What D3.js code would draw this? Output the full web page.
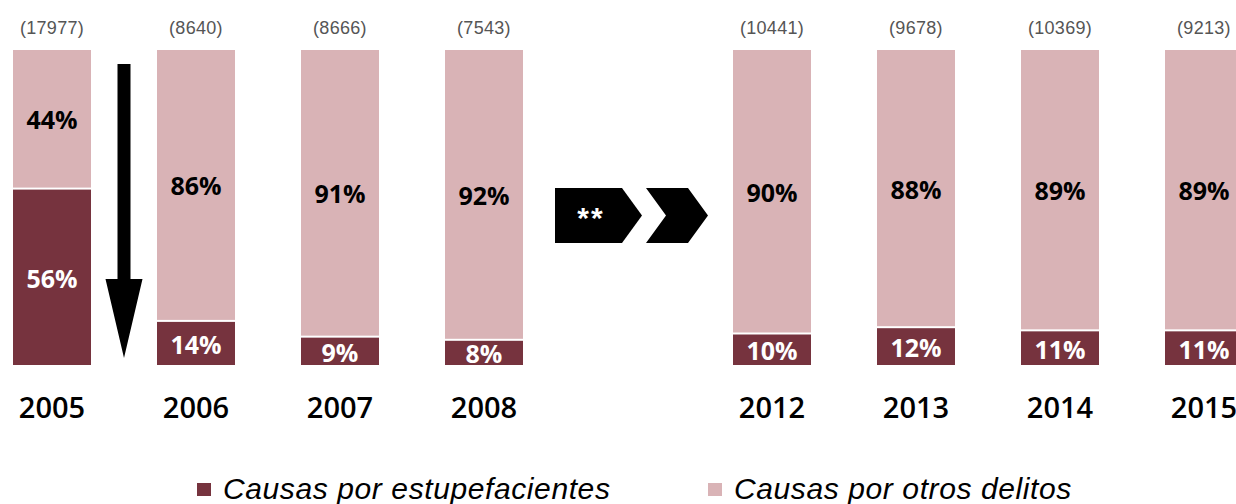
<!DOCTYPE html>
<html lang="es">
<head>
<meta charset="UTF-8">
<title>Causas por estupefacientes</title>
<script src="https://d3js.org/d3.v7.min.js"></script>
<style>
  body { margin: 0; background: #fff; }
  svg { display: block; }
</style>
</head>
<body>
<svg width="1236" height="504"></svg>
<script>
  const width = 1236
  const height = 504

  // data
  const years = ["2005", "2006", "2007", "2008", "", "2012", "2013", "2014", "2015"]
  const estupefacientes = [56, 14, 9, 8, null, 10, 12, 11, 11]
  const otrosDelitos = [44, 86, 91, 92, null, 90, 88, 89, 89]
  const totals = ["(17977)", "(8640)", "(8666)", "(7543)", "", "(10441)", "(9678)", "(10369)", "(9213)"]
  const seriesNames = ["Causas por estupefacientes", "Causas por otros delitos"]
  const colors = ["#76333e", "#d9b3b6"]

  const svg = d3.select("svg")

  const x = d3.scaleBand()
    .domain(d3.range(years.length))
    .range([13, 13 + 8 * 144 + 78])
    .paddingInner(66 / 144)
    .paddingOuter(0)

  const y = d3.scaleLinear().domain([0, 100]).range([365, 50])

  const idx = d3.range(years.length).filter(i => estupefacientes[i] != null)

  let gBars = svg.selectAll(".bar")
    .data(idx)
    .enter()
    .append("g")
    .attr("class", "bar")
    .attr("transform", i => `translate(${x(i)},0)`)

  // bottom segment
  gBars.append("rect")
    .attr("x", 0)
    .attr("width", x.bandwidth())
    .attr("y", i => y(estupefacientes[i]) + 1)
    .attr("height", i => y(0) - y(estupefacientes[i]) - 1)
    .attr("fill", colors[0])

  // top segment
  gBars.append("rect")
    .attr("x", 0)
    .attr("width", x.bandwidth())
    .attr("y", i => y(100))
    .attr("height", i => y(estupefacientes[i]) - y(100) - 1)
    .attr("fill", colors[1])

  gBars.append("text")
    .attr("x", x.bandwidth() / 2)
    .attr("y", i => (y(0) + y(estupefacientes[i])) / 2 + 1)
    .attr("text-anchor", "middle")
    .attr("dominant-baseline", "central")
    .attr("font-family", "'Open Sans', sans-serif")
    .attr("font-weight", "bold")
    .attr("font-size", 25)
    .attr("fill", "#fff")
    .text(i => estupefacientes[i] + "%")

  gBars.append("text")
    .attr("x", x.bandwidth() / 2)
    .attr("y", i => (y(100) + y(estupefacientes[i])) / 2)
    .attr("text-anchor", "middle")
    .attr("dominant-baseline", "central")
    .attr("font-family", "'Open Sans', sans-serif")
    .attr("font-weight", "bold")
    .attr("font-size", 25)
    .attr("fill", "#000")
    .text(i => otrosDelitos[i] + "%")

  gBars.append("text")
    .attr("x", x.bandwidth() / 2)
    .attr("y", 34)
    .attr("text-anchor", "middle")
    .attr("font-family", "'Liberation Sans', Arial, sans-serif")
    .attr("font-size", 18)
    .attr("letter-spacing", 0.3)
    .attr("fill", "#555")
    .text(i => totals[i])

  gBars.append("text")
    .attr("x", x.bandwidth() / 2)
    .attr("y", 418)
    .attr("text-anchor", "middle")
    .attr("font-family", "'Open Sans', sans-serif")
    .attr("font-weight", 600)
    .attr("font-size", 29)
    .attr("fill", "#000")
    .text(i => years[i])

  // down arrow between 2005 and 2006
  const ax = (x(0) + x.bandwidth() + x(1)) / 2
  svg.append("path")
    .attr("d", `M${ax - 6.5},64 H${ax + 6.5} V279 H${ax + 18.5} L${ax},358 L${ax - 18.5},279 H${ax - 6.5} Z`)
    .attr("fill", "#000")

  // chevrons in the empty slot
  const cx = x(4) + x.bandwidth() / 2
  const cTop = 188, cBot = 243, cMid = (cTop + cBot) / 2
  svg.append("path")
    .attr("d", `M${cx - 73},${cTop} H${cx - 6} L${cx + 14},${cMid} L${cx - 6},${cBot} H${cx - 73} Z`)
    .attr("fill", "#000")
  svg.append("path")
    .attr("d", `M${cx + 18},${cTop} H${cx + 60} L${cx + 80},${cMid} L${cx + 60},${cBot} H${cx + 18} L${cx + 38},${cMid} Z`)
    .attr("fill", "#000")
  svg.append("text")
    .attr("x", cx - 37)
    .attr("y", cMid + 12)
    .attr("text-anchor", "middle")
    .attr("font-family", "'Liberation Sans', Arial, sans-serif")
    .attr("font-weight", "bold")
    .attr("font-size", 30)
    .attr("letter-spacing", 2)
    .attr("fill", "#fff")
    .text("**")

  // legend
  const legendX = [197, 708]
  let gLegend = svg.selectAll(".legend")
    .data(seriesNames)
    .enter()
    .append("g")
    .attr("class", "legend")
    .attr("transform", (d, i) => `translate(${legendX[i]},0)`)

  gLegend.append("rect")
    .attr("x", 0)
    .attr("y", 483)
    .attr("width", 14)
    .attr("height", 13)
    .attr("fill", (d, i) => colors[i])

  gLegend.append("text")
    .attr("x", 26)
    .attr("y", 499)
    .attr("font-family", "'Liberation Sans', Arial, sans-serif")
    .attr("font-style", "italic")
    .attr("font-size", 30)
    .attr("letter-spacing", 0.6)
    .attr("fill", "#000")
    .text(d => d)
</script>
</body>
</html>
